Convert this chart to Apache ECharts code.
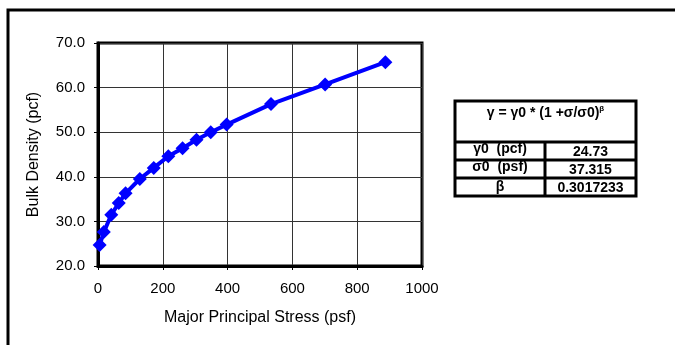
<!DOCTYPE html>
<html>
<head>
<meta charset="utf-8">
<script src="https://cdn.jsdelivr.net/npm/echarts@6/dist/echarts.min.js"></script>
<style>
  html, body { margin: 0; padding: 0; background: #fff; }
  #chart { width: 675px; height: 345px; }
</style>
</head>
<body>
<div id="chart"></div>
<script>
// stress (psf) vs bulk density (pcf)
var stress = [5, 18, 41, 64, 85, 129, 172, 217, 261, 304, 348, 397, 534, 701, 887]
var density = [24.7, 27.6, 31.5, 34.1, 36.3, 39.5, 42.0, 44.6, 46.4, 48.3, 50.0, 51.7, 56.3, 60.7, 65.7]
var xTicks = [0, 200, 400, 600, 800, 1000]
var yTicks = [20, 30, 40, 50, 60, 70]

// fit table
var tableLabels = ['γ0  (pcf)', 'σ0  (psf)', 'β']
var tableValues = ['24.73', '37.315', '0.3017233']

var font = 'Arial, "Liberation Sans", sans-serif'

var points = []
for (var i = 0; i < stress.length; i++) {
    points.push([stress[i], density[i]])
}

// table drawn with graphic elements
var tx = 455, ty = 101, tw = 181, colX = 545
var rowY = [142, 160, 178, 196]
var labelShift = [-2, -2, 0]   // the first two labels sit high and get cut by the rule above
var tableGraphic = [
    {type: 'rect', shape: {x: tx, y: ty, width: tw, height: rowY[3] - ty},
     style: {fill: '#fff', stroke: '#000', lineWidth: 3}},
    {type: 'text', x: tx + tw / 2, y: ty + 4,
     style: {text: '{m|γ = γ0 * (1 +σ/σ0)}{s|β}', align: 'center', verticalAlign: 'top',
        rich: {
            m: {font: 'bold 14px ' + font, fill: '#000'},
            s: {font: 'bold 8px ' + font, fill: '#000', verticalAlign: 'top', padding: [0, 0, 9, 0]}
        }}}
]
var tableLines = []
for (var r = 0; r < 3; r++) {
    tableLines.push({type: 'line', shape: {x1: tx, y1: rowY[r], x2: tx + tw, y2: rowY[r]},
        style: {stroke: '#000', lineWidth: 3}})
    tableGraphic.push({type: 'text', x: (tx + colX) / 2, y: (rowY[r] + rowY[r + 1]) / 2 + labelShift[r],
        style: {text: tableLabels[r], font: 'bold 14px ' + font, fill: '#000', align: 'center', verticalAlign: 'middle'}})
    tableGraphic.push({type: 'text', x: (colX + tx + tw) / 2, y: (rowY[r] + rowY[r + 1]) / 2 + 1,
        style: {text: tableValues[r], font: 'bold 14px ' + font, fill: '#000', align: 'center', verticalAlign: 'middle'}})
}
tableLines.push({type: 'line', shape: {x1: colX, y1: rowY[0], x2: colX, y2: rowY[3]},
    style: {stroke: '#000', lineWidth: 3}})
tableGraphic = tableGraphic.concat(tableLines)

var option = {
    backgroundColor: '#fff',
    animation: false,
    grid: {
        left: 98, top: 43, right: 253, bottom: 79,
        show: true, borderColor: '#000', borderWidth: 3
    },
    xAxis: {
        type: 'value',
        min: xTicks[0], max: xTicks[xTicks.length - 1], interval: 200,
        name: 'Major Principal Stress (psf)',
        nameLocation: 'middle', nameGap: 44,
        nameTextStyle: {color: '#000', fontSize: 16, fontFamily: font},
        axisLine: {lineStyle: {color: '#000', width: 3}},
        axisTick: {show: true, length: 4, lineStyle: {color: '#000', width: 1}},
        axisLabel: {color: '#000', fontSize: 15, fontFamily: font, margin: 15,
            formatter: function (v) { return String(v) }},
        splitLine: {show: true, lineStyle: {color: '#333', width: 1}}
    },
    yAxis: {
        type: 'value',
        min: yTicks[0], max: yTicks[yTicks.length - 1], interval: 10,
        name: 'Bulk Density (pcf)',
        nameLocation: 'middle', nameGap: 56, nameRotate: 90,
        nameTextStyle: {color: '#000', fontSize: 16, fontFamily: font},
        axisLine: {lineStyle: {color: '#000', width: 3}},
        axisTick: {show: true, length: 4, lineStyle: {color: '#000', width: 1}},
        axisLabel: {color: '#000', fontSize: 15, fontFamily: font, margin: 13,
            formatter: function (v) { return v.toFixed(1) }},
        splitLine: {show: true, lineStyle: {color: '#333', width: 1}}
    },
    graphic: [
        {type: 'rect', shape: {x: 8, y: 10, width: 720, height: 400},
         style: {fill: 'none', stroke: '#000', lineWidth: 3}, z: 100}
    ].concat(tableGraphic),
    series: [{
        type: 'line',
        data: points,
        symbol: 'diamond',
        symbolSize: 14,
        lineStyle: {color: '#0000ff', width: 4},
        itemStyle: {color: '#0000ff'},
        z: 5
    }]
}

var myChart = echarts.init(document.getElementById('chart'))
myChart.setOption(option)
</script>
</body>
</html>
